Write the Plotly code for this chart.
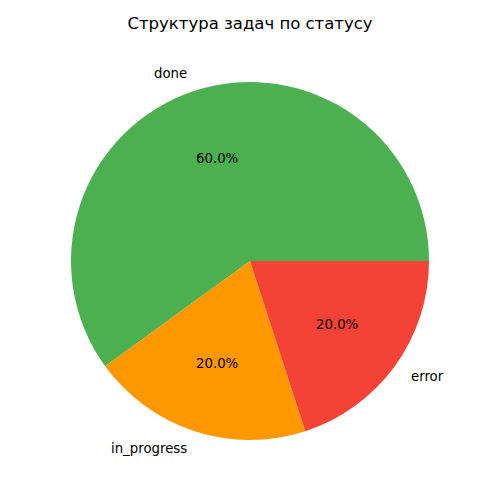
import math
import plotly.graph_objects as go

title = "Структура задач по статусу"
labels = ["done", "in_progress", "error"]
values = [60, 20, 20]
colors = ["#4CAF50", "#FF9800", "#F44336"]

W = H = 500
cx_px, cy_px, r_px = 250, 261, 179
cx = cx_px / W
cy = 1 - cy_px / H
r = r_px / W

total = sum(values)
# plotly counterclockwise: first slice ends at 'rotation' (compass degrees);
# we want it to start at 3 o'clock (compass 90)
rot = 90 - values[0] / total * 360

fig = go.Figure(go.Pie(
    labels=labels, values=values, sort=False,
    direction="counterclockwise", rotation=rot,
    marker=dict(colors=colors, line=dict(width=0)),
    textinfo="none", hoverinfo="label+percent",
    showlegend=False,
    domain=dict(x=[cx - r, cx + r], y=[cy - r, cy + r]),
))

start = 0.0
annotations = []
for lab, v in zip(labels, values):
    frac = v / total
    mid = math.radians((start + frac / 2) * 360)
    start += frac
    c, s = math.cos(mid), math.sin(mid)
    annotations.append(dict(
        x=cx + 1.1 * r * c, y=cy + 1.1 * r * s, xref="paper", yref="paper",
        text=lab, showarrow=False, xanchor="left" if c >= 0 else "right",
        yanchor="middle", font=dict(size=13.3, color="black")))
    annotations.append(dict(
        x=cx + 0.6 * r * c, y=cy + 0.6 * r * s, xref="paper", yref="paper",
        text=f"{frac*100:.1f}%", showarrow=False, xanchor="center",
        yanchor="middle", font=dict(size=13.3, color="black")))

fig.update_layout(
    width=W, height=H, margin=dict(l=0, r=0, t=0, b=0),
    paper_bgcolor="white", plot_bgcolor="white",
    font=dict(family="DejaVu Sans"),
    title=dict(text=title, x=0.5, xanchor="center", y=1 - 23 / H, yanchor="middle",
               font=dict(size=16.5, color="black")),
    annotations=annotations,
)
fig.write_html("out.html")
